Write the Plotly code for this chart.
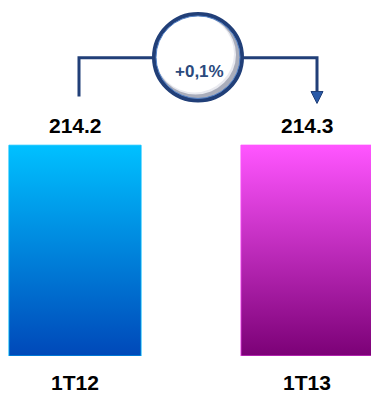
import plotly.graph_objects as go

# Quarterly totals
categories = ["1T12", "1T13"]
values = [214.2, 214.3]
change_label = "+0,1%"

# Vertical gradients (bottom colour, top colour) for each bar
bar_gradients = [
    ("#0047b8", "#00c0ff"),
    ("#7a0075", "#ff55ff"),
]

W, H = 371, 394
BASE_PX = 358          # pixel row of the zero line
BAR_W = 0.57           # bar width in category units

FONT = "Arial, Liberation Sans, sans-serif"
NAVY = "#213f78"


def px(x):
    return x / W


def py(y):
    return (BASE_PX - y) / BASE_PX


fig = go.Figure()

for i, (cat, v) in enumerate(zip(categories, values)):
    x0, x1 = i - BAR_W / 2, i + BAR_W / 2
    bottom, top = bar_gradients[i]
    fig.add_trace(go.Scatter(
        x=[x0, x1, x1, x0, x0],
        y=[0, 0, v, v, 0],
        mode="lines",
        fill="toself",
        line=dict(width=0.8, color=top),
        fillgradient=dict(type="vertical", colorscale=[[0, bottom], [1, top]],
                          start=0, stop=v),
        hoverinfo="skip",
        showlegend=False,
    ))
    fig.add_annotation(
        x=i, y=v, xref="x", yref="y",
        text=f"{v:.1f}", showarrow=False,
        yanchor="bottom", yshift=6,
        font=dict(family=FONT, size=21, color="#000000", weight="bold"),
    )

# connector from first bar to second bar through the change bubble
cy = 58
shapes = [
    dict(type="path", xref="paper", yref="paper",
         path=f"M {px(79)},{py(97)} L {px(79)},{py(cy)} L {px(154)},{py(cy)}",
         line=dict(color=NAVY, width=3)),
    dict(type="path", xref="paper", yref="paper",
         path=f"M {px(242)},{py(cy)} L {px(317)},{py(cy)} L {px(317)},{py(95)}",
         line=dict(color=NAVY, width=3)),
    dict(type="path", xref="paper", yref="paper",
         path=f"M {px(311)},{py(92)} L {px(323)},{py(92)} L {px(317)},{py(104)} Z",
         fillcolor="#2a5aa8", line=dict(color=NAVY, width=1)),
    # bubble: soft inner shadow then white face then ring
    dict(type="circle", xref="paper", yref="paper",
         x0=px(154), x1=px(242), y0=py(14), y1=py(101),
         fillcolor="#a9adbb", line=dict(width=0)),
    dict(type="circle", xref="paper", yref="paper",
         x0=px(155), x1=px(236), y0=py(15), y1=py(95),
         fillcolor="#e9eaf0", line=dict(width=0)),
    dict(type="circle", xref="paper", yref="paper",
         x0=px(155), x1=px(234), y0=py(15), y1=py(93),
         fillcolor="#ffffff", line=dict(width=0)),
    dict(type="circle", xref="paper", yref="paper",
         x0=px(154), x1=px(242), y0=py(14), y1=py(101),
         fillcolor="rgba(0,0,0,0)", line=dict(color=NAVY, width=4)),
    dict(type="circle", xref="paper", yref="paper",
         x0=px(156), x1=px(240), y0=py(16), y1=py(99),
         fillcolor="rgba(0,0,0,0)", line=dict(color="#5684c8", width=1)),
]

fig.add_annotation(
    x=px(199), y=py(60), xref="paper", yref="paper",
    text=change_label, showarrow=False,
    font=dict(family=FONT, size=17, color="#2b4a7d", weight="bold"),
)

fig.update_layout(
    width=W, height=H,
    margin=dict(l=0, r=0, t=0, b=H - BASE_PX),
    paper_bgcolor="#ffffff", plot_bgcolor="#ffffff",
    shapes=shapes,
    xaxis=dict(
        range=[-75 / 232, 1 + 64 / 232],
        tickmode="array", tickvals=list(range(len(categories))), ticktext=categories,
        tickfont=dict(family=FONT, size=21, color="#000000", weight="bold"),
        ticks="", showgrid=False, zeroline=False, showline=False,
        ticklabelstandoff=12,
    ),
    yaxis=dict(
        range=[0, BASE_PX * 214.2 / 212],
        visible=False, showgrid=False, zeroline=False,
    ),
)

fig.write_html("out.html")
